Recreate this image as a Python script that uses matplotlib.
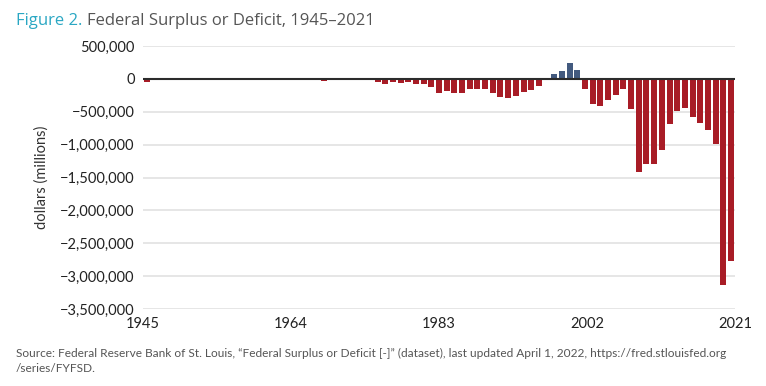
import matplotlib.pyplot as plt
import numpy as np

plt.rcParams['font.family'] = ['Lato', 'DejaVu Sans']

# FRED FYFSD, millions of dollars, fiscal years 1945-2021
years = list(range(1945, 2022))
surplus = [
    -47553, -15936, 4018, 11796, 580, -3119, 6102, -1519, -6493, -1154,
    -2993, 3947, 3412, -2769, -12849, 301, -3335, -7146, -4756, -5915,
    -1411, -3698, -8643, -25161, 3242, -2842, -23033, -23373, -14908, -6135,
    -53242, -73732, -53659, -59185, -40726, -73830, -78968, -127977, -207802, -185367,
    -212308, -221227, -149730, -155178, -152639, -221036, -269238, -290321, -255051, -203186,
    -163952, -107431, -21884, 69270, 125610, 236241, 128236, -157758, -377585, -412727,
    -318346, -248181, -160701, -458553, -1412688, -1294373, -1299599, -1076573, -679775, -484602,
    -441960, -584651, -665446, -779138, -983600, -3131917, -2775311,
]
tick_years = ['1945', '1964', '1983', '2002', '2021']
y_ticks = [500000, 0, -500000, -1000000, -1500000, -2000000, -2500000, -3000000, -3500000]

red = '#a81c26'
blue = '#435a7f'

fig = plt.figure(figsize=(7.66, 3.86), dpi=100)
ax = fig.add_axes([0.1867, 0.1995, 0.9595 - 0.1867, 0.8808 - 0.1995])

idx = np.arange(len(years))
vals = np.array(surplus)
colors = [blue if v > 0 else red for v in vals]
ax.bar(idx, vals, width=0.78, color=colors, zorder=3)

ax.set_ylim(-3500000, 500000)
ax.set_xlim(-0.52, len(years) - 1 + 0.52)
ax.set_yticks(y_ticks)
ax.set_yticklabels(['{:,}'.format(v).replace('-', '\u2212') for v in y_ticks])
ax.set_xticks(np.linspace(ax.get_xlim()[0], ax.get_xlim()[1], len(tick_years)))
ax.set_xticklabels(tick_years)

for v in y_ticks:
    if v != 0:
        ax.axhline(v, color='#e6e6e6', lw=1.4, zorder=1)
ax.axhline(0, color='#2b2b2b', lw=1.5, zorder=4)

for s in ax.spines.values():
    s.set_visible(False)
ax.tick_params(length=0, labelsize=10.5, colors='#222222')
ax.tick_params(axis='y', pad=6)
ax.tick_params(axis='x', pad=6)
ax.set_ylabel('dollars (millions)', fontsize=10.5, color='#333333', labelpad=8)

# title in two colours
t1 = fig.text(0.021, 0.945, 'Figure 2. ', color='#2aa7c3', fontsize=12,
              va='center', family=['Open Sans', 'DejaVu Sans'])
fig.canvas.draw()
bb = t1.get_window_extent(renderer=fig.canvas.get_renderer())
x2 = bb.x1 / fig.bbox.width
fig.text(x2, 0.945, 'Federal Surplus or Deficit, 1945\u20132021',
         color='#555555', fontsize=12, va='center', family=['Open Sans', 'DejaVu Sans'])

fig.text(0.021, 0.065,
         'Source: Federal Reserve Bank of St. Louis, \u201cFederal Surplus or Deficit [-]\u201d (dataset), '
         'last updated April 1, 2022, https://fred.stlouisfed.org\n/series/FYFSD.',
         color='#555555', fontsize=8.6, va='center', linespacing=1.4)

fig.savefig('out.png', dpi=100)
